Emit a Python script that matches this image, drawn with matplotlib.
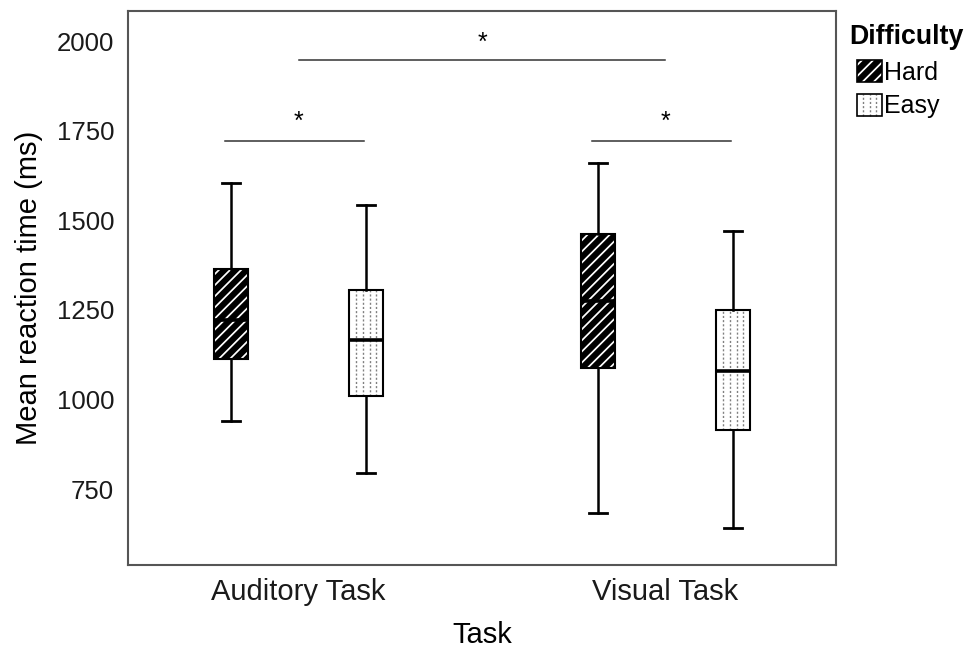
import matplotlib
matplotlib.use("Agg")
import matplotlib.pyplot as plt
from matplotlib.patches import Rectangle, PathPatch, Patch
from matplotlib.lines import Line2D
from matplotlib.legend_handler import HandlerBase
import numpy as np

plt.rcParams['font.family'] = ['Liberation Sans', 'DejaVu Sans']
plt.rcParams['hatch.linewidth'] = 1.25

# ---- data ----
tasks = ['Auditory Task', 'Visual Task']
difficulty = ['Hard', 'Easy']
hard_lo = [941, 683]
hard_q1 = [1113, 1087]
hard_med = [1222, 1275]
hard_q3 = [1363, 1462]
hard_hi = [1603, 1660]
easy_lo = [795, 641]
easy_q1 = [1010, 915]
easy_med = [1166, 1079]
easy_q3 = [1305, 1249]
easy_hi = [1544, 1471]
yticks = [750, 1000, 1250, 1500, 1750, 2000]
# significance brackets: (left group, right group, height)
sig_between_tasks = (0, 1, 1946)
sig_within_task_y = [1720, 1720]
sig_label = '*'

fig = plt.figure(figsize=(9.69, 6.5), dpi=100)
ax = fig.add_axes([128/969, 1-565/650, (836-128)/969, (565-11)/650])

offset = 0.184
width = 0.095
x = np.arange(len(tasks))

def stats(lo, q1, med, q3, hi):
    return [dict(whislo=lo[i], q1=q1[i], med=med[i], q3=q3[i], whishi=hi[i], fliers=[])
            for i in range(len(lo))]

common = dict(widths=width, patch_artist=True, showfliers=False, manage_ticks=False,
              whiskerprops=dict(color='black', lw=1.8),
              capprops=dict(color='black', lw=2.0),
              medianprops=dict(color='black', lw=2.6, zorder=6),
              capwidths=0.05)

bh = ax.bxp(stats(hard_lo, hard_q1, hard_med, hard_q3, hard_hi), positions=x - offset,
            boxprops=dict(facecolor='black', edgecolor='white', hatch='///', lw=0), **common)
be = ax.bxp(stats(easy_lo, easy_q1, easy_med, easy_q3, easy_hi), positions=x + offset,
            boxprops=dict(facecolor='white', edgecolor='white', lw=0), **common)

for b in bh['boxes'] + be['boxes']:
    ax.add_patch(PathPatch(b.get_path(), fill=False, edgecolor='black', lw=1.5, zorder=5))

# dotted fill for easy boxes
for i in range(len(tasks)):
    xs = (x[i] + offset) + np.array([-1.5, -0.5, 0.5, 1.5]) * width / 5
    ax.vlines(xs, easy_q1[i], easy_q3[i], colors='#808080', lw=1.0,
              linestyles=(0, (1.5, 1.5)), zorder=4)

# significance
sl, sr, sy = sig_between_tasks
ax.plot([x[sl], x[sr]], [sy, sy], color='#333333', lw=1.1)
ax.annotate(sig_label, ((x[sl] + x[sr]) / 2, sy), xytext=(0, 7.5), textcoords='offset points',
            ha='center', va='baseline', fontsize=18)
for i in range(len(tasks)):
    yy = sig_within_task_y[i]
    ax.plot([x[i] - offset - 0.015, x[i] + offset - 0.005], [yy, yy], color='#333333', lw=1.1)
    ax.annotate(sig_label, (x[i], yy), xytext=(0, 9), textcoords='offset points',
                ha='center', va='baseline', fontsize=18)

ax.set_xlim(-0.4646, 1.4646)
ax.set_ylim(538, 2084)
ax.set_yticks(yticks)
ax.set_yticklabels([str(v) for v in yticks])
ax.set_xticks(x)
ax.set_xticklabels(tasks)
ax.tick_params(axis='both', length=0, colors='#1a1a1a')
ax.tick_params(axis='y', pad=10, labelsize=18.5)
ax.tick_params(axis='x', pad=9, labelsize=21)
for s in ax.spines.values():
    s.set_color('#555555')
    s.set_linewidth(1.5)
ax.set_ylabel('Mean reaction time (ms)', fontsize=21, labelpad=10)
ax.set_xlabel('Task', fontsize=21, labelpad=11)


class BoxHandler(HandlerBase):
    def __init__(self, kind):
        super().__init__()
        self.kind = kind

    def create_artists(self, legend, orig_handle, xdescent, ydescent, width, height, fontsize, trans):
        x0, y0 = -xdescent, -ydescent
        arts = []
        if self.kind == 'hard':
            arts.append(Rectangle((x0, y0), width, height, facecolor='black', edgecolor='white',
                                  hatch='///', lw=0, transform=trans))
        else:
            arts.append(Rectangle((x0, y0), width, height, facecolor='white', lw=0, transform=trans))
            for k in (0.25, 0.5, 0.75):
                arts.append(Line2D([x0 + k * width] * 2, [y0, y0 + height], color='#808080', lw=1.0,
                                   linestyle=(0, (1.5, 1.5)), transform=trans))
        arts.append(Rectangle((x0, y0), width, height, fill=False, edgecolor='black', lw=1.2,
                              transform=trans))
        return arts


ph = Patch(label=difficulty[0])
pe = Patch(label=difficulty[1])
fig.text(849/969, 1-37/650, 'Difficulty', fontsize=19.3, fontweight='bold', va='center', ha='left')
fig.legend(handles=[ph, pe], handler_map={ph: BoxHandler('hard'), pe: BoxHandler('easy')},
           loc='upper left', bbox_to_anchor=(857/969, 1-60/650), frameon=False,
           fontsize=18, handlelength=1.0, handleheight=1.0, handletextpad=0.1,
           labelspacing=0.35, borderpad=0, borderaxespad=0)

fig.savefig('out.png', dpi=100)
